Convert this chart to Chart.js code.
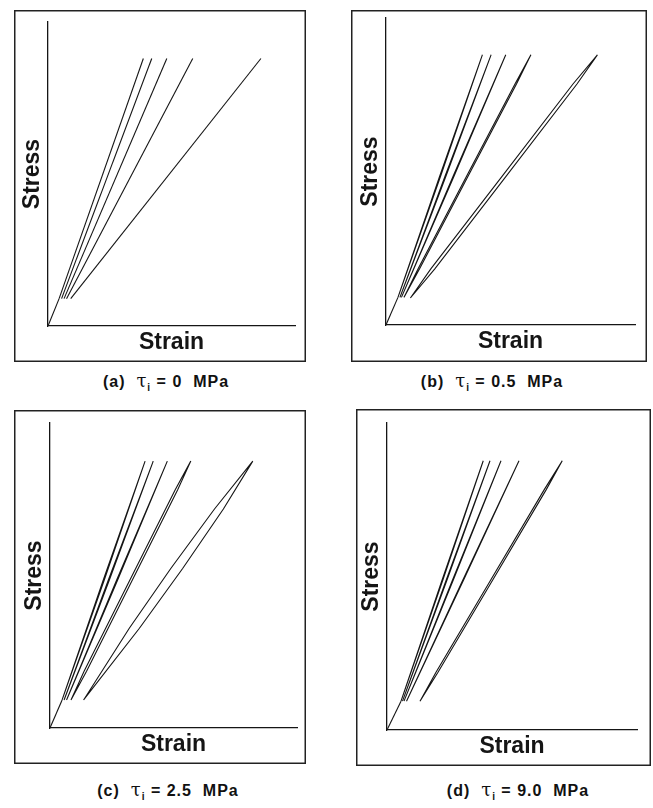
<!DOCTYPE html>
<html>
<head>
<meta charset="utf-8">
<script src="https://cdn.jsdelivr.net/npm/chart.js@4/dist/chart.umd.min.js"></script>
<style>
  html, body { margin: 0; padding: 0; background: #fff; }
  body { width: 653px; height: 808px; position: relative; overflow: hidden;
         font-family: "Liberation Sans", Arial, sans-serif; }
  canvas { position: absolute; }
  .caption { position: absolute; width: 300px; text-align: center; white-space: pre;
             font-weight: bold; font-size: 16px; letter-spacing: 1px; color: #111; line-height: 20px; }
  .tau { font-family: "DejaVu Serif", serif; font-weight: normal; font-size: 18px; }
  .caption sub { font-size: 10px; }
</style>
</head>
<body>
<canvas id="chart-a" width="292" height="352" style="left:14px; top:10px;"></canvas>
<canvas id="chart-b" width="296" height="352" style="left:351px; top:10px;"></canvas>
<canvas id="chart-c" width="292" height="354" style="left:14px; top:410px;"></canvas>
<canvas id="chart-d" width="295" height="357" style="left:356px; top:409px;"></canvas>
<div class="caption" id="cap-a" style="left:16px; top:371px;"></div>
<div class="caption" id="cap-b" style="left:342px; top:371px;"></div>
<div class="caption" id="cap-c" style="left:18px; top:780px;"></div>
<div class="caption" id="cap-d" style="left:368px; top:780px;"></div>
<script>
// Axis titles and captions
const strainLabel = "Strain";
const stressLabel = "Stress";
const panelTags = ["(a)", "(b)", "(c)", "(d)"];
const tauValues = ["0", "0.5", "2.5", "9.0"];

// Each cycle is a polyline of [strain, stress] points, both in % of axis length.
// First entry: initial loading from origin; then one load/unload loop per cycle.

// (a) tau = 0 : loading and unloading coincide
const cyclesA = [
  [[0, 0], [4.5, 9]],
  [[4.5, 9], [38.6, 88]],
  [[5.5, 9], [42.0, 88]],
  [[6.5, 9], [48.1, 88]],
  [[7.5, 9], [58.6, 88]],
  [[9.2, 9], [86.2, 88]]
];

// (b) tau = 0.5 MPa : narrow loops
const cyclesB = [
  [[0, 0], [4.8, 9]],
  [[4.8, 9], [21.95, 48.5], [38.7, 88], [21.55, 48.5], [4.8, 9]],
  [[5.6, 9], [24.1, 48.5], [42.2, 88], [23.7, 48.5], [5.6, 9]],
  [[6.2, 9], [27.35, 48.5], [48.1, 88], [26.95, 48.5], [6.2, 9]],
  [[7.2, 9], [13.6, 18.5], [33.0, 48.5], [52.4, 78.5], [58.2, 88], [51.8, 78.5], [32.4, 48.5], [13.0, 18.5], [7.2, 9]],
  [[9.8, 8.8], [19.6, 18.3], [48.2, 48.4], [76.7, 78.5], [84.9, 88], [75.1, 78.5], [46.6, 48.4], [18.0, 18.3], [9.8, 8.8]]
];

// (c) tau = 2.5 MPa : widest loops
const cyclesC = [
  [[0, 0], [4.9, 9.2]],
  [[4.9, 9.2], [21.9, 48.35], [38.5, 87.5], [21.5, 48.35], [4.9, 9.2]],
  [[5.7, 9.2], [23.95, 48.35], [41.8, 87.5], [23.55, 48.35], [5.7, 9.2]],
  [[6.7, 9.2], [27.3, 48.35], [47.5, 87.5], [26.9, 48.35], [6.7, 9.2]],
  [[8.5, 9.2], [14.8, 18.6], [33.25, 48.35], [51.7, 78.1], [57.0, 87.5], [50.7, 78.1], [32.25, 48.35], [13.8, 18.6], [8.5, 9.2]],
  [[13.6, 9.2], [36.2, 32.7], [53.7, 52.3], [70.2, 71.8], [82.1, 87.5], [66.6, 71.8], [48.9, 52.3], [32.1, 32.7], [13.6, 9.2]]
];

// (d) tau = 9.0 MPa : loops close up again
const cyclesD = [
  [[0, 0], [5.6, 9.4]],
  [[5.6, 9.4], [22.2, 48.55], [38.5, 87.7], [21.9, 48.55], [5.6, 9.4]],
  [[6.2, 9.4], [23.85, 48.55], [41.2, 87.7], [23.55, 48.55], [6.2, 9.4]],
  [[6.8, 9.4], [26.35, 48.55], [45.6, 87.7], [26.05, 48.55], [6.8, 9.4]],
  [[7.8, 9.4], [30.45, 48.55], [52.8, 87.7], [30.15, 48.55], [7.8, 9.4]],
  [[13.2, 9.4], [20.4, 18.8], [42.05, 48.55], [63.7, 78.3], [70.1, 87.7], [62.9, 78.3], [41.25, 48.55], [19.6, 18.8], [13.2, 9.4]]
];

const ink = "#151515";
const titleFont = { family: "'Liberation Sans', Arial, sans-serif", size: 23, weight: "bold", lineHeight: 1 };

// Outer frame round each panel
const framePlugin = {
  id: "frame",
  afterDraw(chart) {
    const ctx = chart.ctx;
    ctx.save();
    ctx.strokeStyle = "#222";
    ctx.lineWidth = 1.5;
    ctx.strokeRect(0.75, 0.75, chart.width - 1.5, chart.height - 1.5);
    ctx.restore();
  }
};

function axisOptions(label, titlePad) {
  return {
    type: "linear",
    min: 0,
    max: 100,
    ticks: { display: false },
    grid: { display: false, drawTicks: false, tickLength: 0 },
    border: { display: true, color: ink, width: 1.3 },
    title: { display: true, text: label, color: ink, font: titleFont, padding: titlePad }
  };
}

function makePanel(id, cycles, pad) {
  return new Chart(document.getElementById(id), {
    type: "scatter",
    data: {
      datasets: cycles.map(c => ({
        data: c.map(p => ({ x: p[0], y: p[1] })),
        showLine: true,
        borderColor: ink,
        borderWidth: 1.1,
        pointRadius: 0,
        fill: false,
        tension: 0
      }))
    },
    options: {
      responsive: false,
      animation: false,
      events: [],
      layout: { padding: pad },
      plugins: { legend: { display: false }, tooltip: { enabled: false } },
      scales: {
        x: axisOptions(strainLabel, { top: 5.5, bottom: 0 }),
        y: axisOptions(stressLabel, { top: 0, bottom: 4 })
      }
    },
    plugins: [framePlugin]
  });
}

makePanel("chart-a", cyclesA, { left: 7, top: 12, right: 11, bottom: 7.5 });
makePanel("chart-b", cyclesB, { left: 8, top: 8, right: 12, bottom: 8.5 });
makePanel("chart-c", cyclesC, { left: 9, top: 13, right: 9, bottom: 7.5 });
makePanel("chart-d", cyclesD, { left: 4, top: 14, right: 14, bottom: 7.5 });

["cap-a", "cap-b", "cap-c", "cap-d"].forEach((id, i) => {
  document.getElementById(id).innerHTML =
    panelTags[i] + "  <span class=\"tau\">τ</span><sub>i</sub> = " + tauValues[i] + "  MPa";
});
</script>
</body>
</html>
